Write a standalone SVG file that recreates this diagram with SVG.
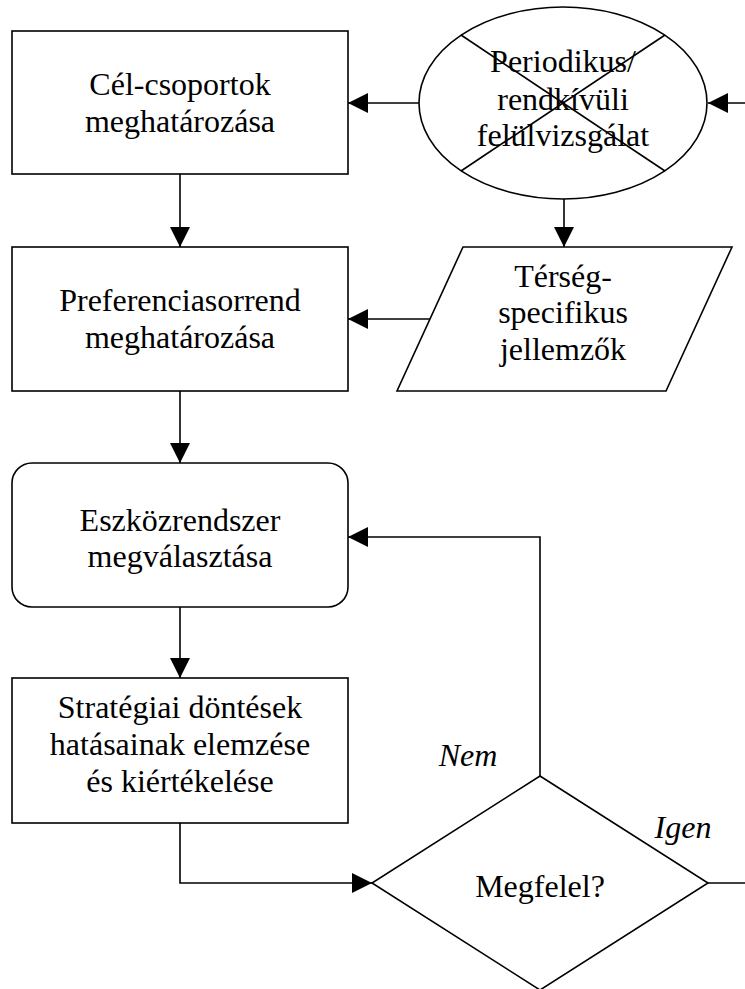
<svg xmlns="http://www.w3.org/2000/svg" width="745" height="989" viewBox="0 0 745 989">
  <style>
    .shape { fill: #ffffff; stroke: #000000; stroke-width: 1.6; }
    .conn { fill: none; stroke: #000000; stroke-width: 1.6; }
    text { font-family: 'Liberation Serif', 'Times New Roman', Times, 'DejaVu Serif', serif; font-size: 32px; fill: #000000; text-anchor: middle; }
    .it { font-style: italic; }
  </style>
  <defs>
    <marker id="arrow" markerUnits="userSpaceOnUse" markerWidth="20" markerHeight="20" refX="20" refY="10" orient="auto">
      <path d="M0,0 L20,10 L0,20 Z" fill="#000000"/>
    </marker>
  </defs>
  <rect width="745" height="989" fill="#ffffff"/>

  <g id="connectors">
    <line class="conn" x1="745" y1="103" x2="708" y2="103" marker-end="url(#arrow)"/>
    <line class="conn" x1="419" y1="103" x2="348" y2="103" marker-end="url(#arrow)"/>
    <line class="conn" x1="564" y1="199" x2="564" y2="247" marker-end="url(#arrow)"/>
    <line class="conn" x1="430" y1="319" x2="348" y2="319" marker-end="url(#arrow)"/>
    <line class="conn" x1="180" y1="174" x2="180" y2="247" marker-end="url(#arrow)"/>
    <line class="conn" x1="180" y1="391" x2="180" y2="463" marker-end="url(#arrow)"/>
    <line class="conn" x1="180" y1="607" x2="180" y2="678" marker-end="url(#arrow)"/>
    <polyline class="conn" points="180,823 180,883 372,883" marker-end="url(#arrow)"/>
    <polyline class="conn" points="540,776 540,537 348,537" marker-end="url(#arrow)"/>
    <line class="conn" x1="708" y1="883" x2="745" y2="883"/>
    <text class="it" x="468" y="766" font-family="Liberation Serif, serif">Nem</text>
    <text class="it" x="683" y="838" font-family="Liberation Serif, serif">Igen</text>
  </g>

  <g id="node-celcsoportok">
    <rect class="shape" x="12" y="31" width="336" height="143"/>
    <text x="180" y="95">Cél-csoportok</text>
    <text x="180" y="132">meghatározása</text>
  </g>

  <g id="node-periodikus">
    <ellipse class="shape" cx="563" cy="103" rx="144" ry="96"/>
    <line class="conn" x1="461" y1="35" x2="665" y2="171"/>
    <line class="conn" x1="665" y1="35" x2="461" y2="171"/>
    <text x="563" y="72">Periodikus/</text>
    <text x="563" y="110">rendkívüli</text>
    <text x="563" y="146">felülvizsgálat</text>
  </g>

  <g id="node-preferencia">
    <rect class="shape" x="12" y="247" width="336" height="144"/>
    <text x="180" y="311">Preferenciasorrend</text>
    <text x="180" y="348">meghatározása</text>
  </g>

  <g id="node-tersegspecifikus">
    <polygon class="shape" points="463,247 732,247 666,391 397,391"/>
    <text x="563" y="287">Térség-</text>
    <text x="563" y="323">specifikus</text>
    <text x="563" y="360">jellemzők</text>
  </g>

  <g id="node-eszkozrendszer">
    <rect class="shape" x="12" y="463" width="336" height="144" rx="20" ry="20"/>
    <text x="180" y="531">Eszközrendszer</text>
    <text x="180" y="567">megválasztása</text>
  </g>

  <g id="node-strategiai">
    <rect class="shape" x="12" y="678" width="336" height="145"/>
    <text x="180" y="718">Stratégiai döntések</text>
    <text x="180" y="755">hatásainak elemzése</text>
    <text x="180" y="792">és kiértékelése</text>
  </g>

  <g id="node-megfelel">
    <polygon class="shape" points="540,776 708,883 540,990 372,883"/>
    <text x="540" y="897">Megfelel?</text>
  </g>
</svg>
